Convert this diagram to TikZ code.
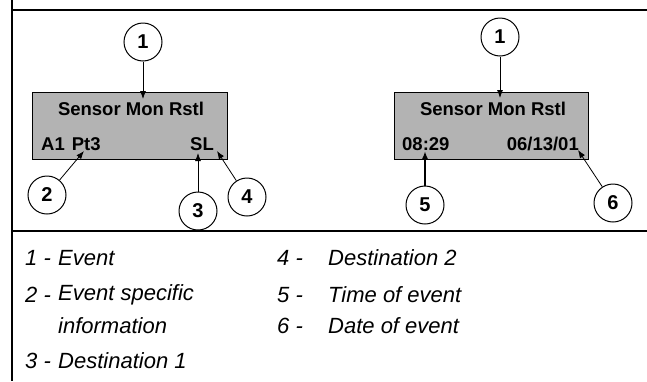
\documentclass[tikz,border=0pt]{standalone}
\usepackage{fontspec}
\setmainfont{Liberation Sans}
\usetikzlibrary{arrows.meta}
\definecolor{boxgray}{RGB}{179,179,179}
\tikzset{
  frameline/.style={line width=2pt},
  lcd/.style={draw=black, line width=0.9pt, fill=boxgray},
  callout/.style={circle, draw=black, line width=1pt, minimum size=38pt, inner sep=0pt, font=\fontsize{20}{20}\selectfont\bfseries},
  lcdtext/.style={inner sep=0pt, font=\fontsize{18.5}{18.5}\selectfont\bfseries},
  pointer/.style={-{Latex[length=8pt,width=6pt]}, line width=0.8pt},
  legnum/.style={anchor=west, inner sep=0pt, font=\fontsize{22}{22}\selectfont\itshape},
  legtext/.style={anchor=west, inner sep=0pt, font=\fontsize{22}{22}\selectfont\itshape}
}
\begin{document}
\begin{tikzpicture}[x=1pt,y=-1pt]
\useasboundingbox (0,0) rectangle (647,381);
% frame
\coordinate (fTL) at (12,0);
\coordinate (fBL) at (12,381);
\coordinate (tL) at (12,10);
\coordinate (tR) at (647,10);
\coordinate (sL) at (12,231);
\coordinate (sR) at (647,231);
\draw[frameline] (fTL) -- (fBL);
\draw[frameline] (tL) -- (tR);
\draw[frameline] (sL) -- (sR);
% left display
\draw[lcd] (32,92) rectangle (227,159);
\node[lcdtext] (l1) at (131,109) {Sensor Mon Rstl};
\node[lcdtext, anchor=west] (l2) at (41,144) {A1\hspace{7pt}Pt3};
\node[lcdtext, anchor=east] (l3) at (214,144) {SL};
% right display
\draw[lcd] (394,92) rectangle (588,159);
\node[lcdtext] (r1) at (493,109) {Sensor Mon Rstl};
\node[lcdtext, anchor=west] (r2) at (402,144) {08:29};
\node[lcdtext, anchor=east] (r3) at (579,144) {06/13/01};
% callouts left
\node[callout] (c1L) at (143,42) {1};
\node[callout] (c2) at (47,195) {2};
\node[callout] (c3) at (198,211) {3};
\node[callout] (c4) at (247,197) {4};
\coordinate (a1L) at (143,99);
\coordinate (a2) at (84,151);
\coordinate (a3) at (198,153);
\coordinate (a4) at (217,151);
\draw[pointer] (c1L) -- (a1L);
\draw[pointer] (c2) -- (a2);
\draw[pointer] (c3) -- (a3);
\draw[pointer] (c4) -- (a4);
% callouts right
\node[callout] (c1R) at (500,37) {1};
\node[callout] (c5) at (425,205) {5};
\node[callout] (c6) at (613,203) {6};
\coordinate (a1R) at (500,98);
\coordinate (a5) at (425,151);
\coordinate (a6) at (578,150);
\draw[pointer] (c1R) -- (a1R);
\draw[pointer, line width=1.8pt] (c5) -- (a5);
\draw[pointer] (c6) -- (a6);
% legend
\node[legnum] (n1) at (25,258) {1 -};
\node[legtext] (t1) at (58,258) {Event};
\node[legnum] (n2) at (25,295) {2 -};
\node[legtext] (t2) at (58,295) {Event specific};
\node[legtext] (t2b) at (58,326) {information};
\node[legnum] (n3) at (25,361) {3 -};
\node[legtext] (t3) at (58,361) {Destination 1};
\node[legnum] (n4) at (277,258) {4 -};
\node[legtext] (t4) at (328,258) {Destination 2};
\node[legnum] (n5) at (277,295) {5 -};
\node[legtext] (t5) at (328,295) {Time of event};
\node[legnum] (n6) at (277,326) {6 -};
\node[legtext] (t6) at (328,326) {Date of event};
\end{tikzpicture}
\end{document}
